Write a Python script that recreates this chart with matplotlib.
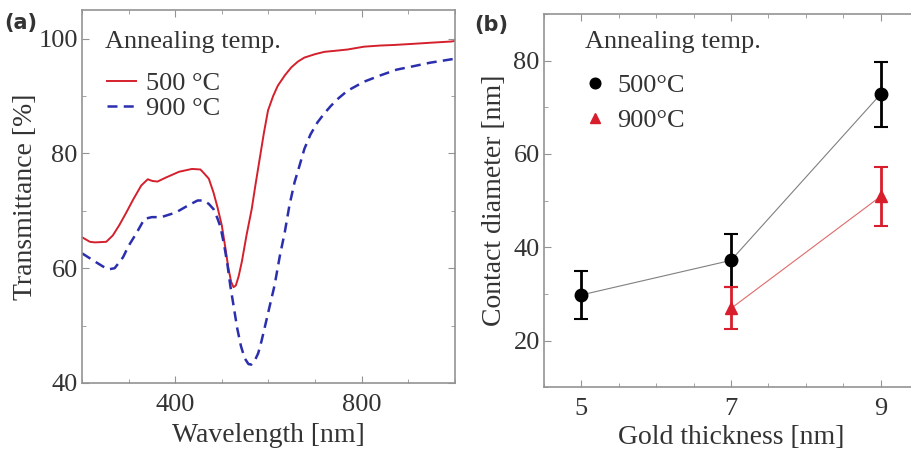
import matplotlib
matplotlib.use('Agg')
import matplotlib.pyplot as plt
from matplotlib.ticker import MultipleLocator

# ---- panel (a): transmittance spectra ----
wl_500 = [200, 217, 228, 252, 266, 280, 295, 310, 327, 341, 351, 362, 380, 408, 436,
          454, 461, 472, 482, 491, 500, 507, 514, 520, 525, 530, 536, 543, 553, 564,
          572, 581, 590, 599, 610, 620, 635, 649, 663, 677, 700, 720, 745, 769, 805,
          840, 870, 911, 950, 992, 1000]
tr_500 = [65.4, 64.6, 64.5, 64.6, 65.7, 67.5, 69.7, 72.0, 74.4, 75.5, 75.2, 75.1, 75.8,
          76.8, 77.3, 77.2, 76.6, 75.6, 73.2, 70.5, 67.4, 63.8, 60.0, 57.6, 56.7, 57.0,
          58.6, 61.2, 65.8, 70.3, 74.5, 79.0, 83.5, 87.5, 90.0, 91.8, 93.6, 95.0, 96.0,
          96.7, 97.3, 97.7, 97.9, 98.1, 98.6, 98.8, 98.9, 99.1, 99.3, 99.5, 99.6]

wl_900 = [200, 231, 245, 257, 270, 288, 300, 316, 334, 350, 370, 401, 429, 448, 461,
          472, 482, 490, 497, 505, 512, 518, 525, 533, 541, 549, 557, 563, 570, 578,
          585, 592, 600, 613, 624, 635, 645, 656, 667, 677, 690, 705, 720, 734, 750,
          769, 805, 840, 875, 911, 946, 992, 1000]
tr_900 = [62.6, 61.0, 60.3, 59.8, 60.0, 61.9, 63.9, 66.0, 68.6, 68.9, 68.9, 69.7, 71.0,
          71.8, 71.8, 71.2, 70.3, 68.8, 67.2, 64.0, 60.6, 57.0, 53.5, 49.5, 46.4, 44.3,
          43.3, 43.2, 43.8, 45.2, 47.3, 49.7, 52.5, 57.0, 62.0, 66.3, 71.0, 75.0, 78.0,
          80.8, 83.3, 85.4, 87.0, 88.3, 89.6, 90.9, 92.5, 93.6, 94.6, 95.2, 95.8, 96.4,
          96.5]

# ---- panel (b): contact diameter ----
thick_500 = [5, 7, 9]
diam_500 = [29.8, 37.2, 72.8]
err_500 = [5.2, 5.7, 7.0]

thick_900 = [7, 9]
diam_900 = [26.9, 50.9]
err_900 = [4.5, 6.3]

plt.rcParams['font.family'] = ['Liberation Serif', 'DejaVu Serif']

fig = plt.figure(figsize=(9.12, 4.5), dpi=100)
ax1 = fig.add_axes([0.0899, 0.1489, 0.409, 0.829])
ax2 = fig.add_axes([0.5965, 0.1393, 0.410, 0.8296])

axcol = '#939393'
txtcol = '#333333'
fs = 19
lfs = 20

for ax in (ax1, ax2):
    for s in ax.spines.values():
        s.set_color(axcol)
        s.set_linewidth(1.2)
    ax.tick_params(which='both', direction='in', top=True, right=True,
                   color=axcol, labelsize=fs, labelcolor=txtcol)
    ax.tick_params(axis='x', pad=8)
    ax.tick_params(axis='y', pad=3)
    ax.tick_params(which='major', length=5)
    ax.tick_params(which='minor', length=3)

# (a)
ax1.plot(wl_500, tr_500, color='#d4202c', lw=1.4, label='500 °C')
ax1.plot(wl_900, tr_900, color='#2b2fae', lw=1.8, ls=(0, (4, 2.5)), label='900 °C')
ax1.set_xlim(200, 1000)
ax1.set_ylim(40, 105)
ax1.set_xticks([400, 800])
ax1.xaxis.set_minor_locator(MultipleLocator(100))
ax1.yaxis.set_major_locator(MultipleLocator(20))
ax1.yaxis.set_minor_locator(MultipleLocator(10))
ax1.set_xlabel('Wavelength [nm]', fontsize=lfs, color=txtcol, labelpad=5)
ax1.set_ylabel('Transmittance [%]', fontsize=lfs, color=txtcol, labelpad=0)
ax1.text(0.062, 0.915, 'Annealing temp.', transform=ax1.transAxes, fontsize=fs,
         color=txtcol, ha='left', va='center')
ax1.legend(loc='upper left', bbox_to_anchor=(0.066, 0.835), frameon=False,
           fontsize=fs, handlelength=1.1, labelspacing=0.05, handletextpad=0.4,
           borderaxespad=0, borderpad=0, labelcolor=txtcol)

# (b)
ax2.plot(thick_500, diam_500, color='#808080', lw=0.8)
ax2.plot(thick_900, diam_900, color='#e06a6a', lw=0.8)
ax2.errorbar(thick_500, diam_500, yerr=err_500, fmt='o', color='black', ms=9,
             elinewidth=2, capsize=5, capthick=1.5, label='500°C')
ax2.errorbar(thick_900, diam_900, yerr=err_900, fmt='^', color='#d81e2c', ms=8,
             elinewidth=2, capsize=5, capthick=1.5, label='900°C')
ax2.set_xlim(4.5, 9.5)
ax2.set_ylim(10, 90)
ax2.set_xticks([5, 7, 9])
ax2.xaxis.set_minor_locator(MultipleLocator(0.5))
ax2.set_yticks([20, 40, 60, 80])
ax2.yaxis.set_minor_locator(MultipleLocator(10))
ax2.set_xlabel('Gold thickness [nm]', fontsize=lfs, color=txtcol, labelpad=3)
ax2.set_ylabel('Contact diameter [nm]', fontsize=lfs, color=txtcol, labelpad=5)
ax2.text(0.110, 0.926, 'Annealing temp.', transform=ax2.transAxes, fontsize=fs,
         color=txtcol, ha='left', va='center')
h, l = ax2.get_legend_handles_labels()
h = [x[0] for x in h]
ax2.legend(h, l, loc='upper left', bbox_to_anchor=(0.108, 0.84), frameon=False,
           fontsize=fs, handlelength=0.8, labelspacing=0.42, handletextpad=0.44,
           borderaxespad=0, borderpad=0, markerscale=0.85, labelcolor=txtcol)

fig.text(0.023, 0.95, '(a)', fontsize=15, fontweight='bold', family='DejaVu Sans',
         ha='center', va='center', color=txtcol)
fig.text(0.539, 0.944, '(b)', fontsize=15, fontweight='bold', family='DejaVu Sans',
         ha='center', va='center', color=txtcol)

fig.savefig('out.png', dpi=100)
